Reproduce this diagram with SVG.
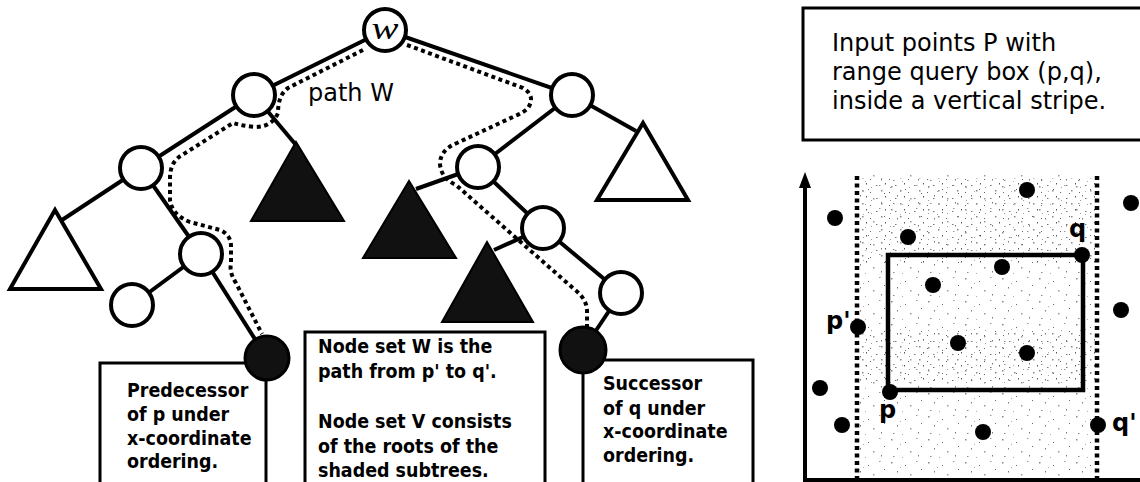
<svg xmlns="http://www.w3.org/2000/svg" width="1140" height="482" viewBox="0 0 1140 482">
<style>
.edge{stroke:#000;stroke-width:4;fill:none}
.dot{stroke:#000;stroke-width:4;fill:none;stroke-dasharray:4 3.5}
.vdot{stroke:#000;stroke-width:4.5;fill:none;stroke-dasharray:4 3.5}
.node{fill:#fff;stroke:#000;stroke-width:4}
.dark{fill:#111;stroke:#000;stroke-width:3}
.tri{fill:#fff;stroke:#000;stroke-width:4;stroke-linejoin:miter}
.tridark{fill:#111;stroke:#000;stroke-width:2}
.box{fill:none;stroke:#000;stroke-width:3}
.lbl{font-family:"DejaVu Sans","Liberation Sans",sans-serif;font-size:17.5px;font-weight:bold;fill:#000}
.big{font-family:"DejaVu Sans","Liberation Sans",sans-serif;font-size:24px;fill:#000}
.pl{font-family:"DejaVu Sans","Liberation Sans",sans-serif;font-size:24px;font-weight:bold;fill:#000}
.pt{fill:#000}
</style>
<defs>
<pattern id="spk" width="37" height="23" patternUnits="userSpaceOnUse">
<rect x="3" y="2" width="1.5" height="1.5" fill="#888"/>
<rect x="17" y="5" width="1" height="1" fill="#666"/>
<rect x="28" y="1" width="1.5" height="1" fill="#999"/>
<rect x="9" y="11" width="1" height="1.5" fill="#777"/>
<rect x="22" y="14" width="1.5" height="1.5" fill="#999"/>
<rect x="33" y="9" width="1" height="1" fill="#666"/>
<rect x="5" y="19" width="1.5" height="1" fill="#888"/>
<rect x="14" y="20" width="1" height="1" fill="#aaa"/>
<rect x="30" y="18" width="1" height="1.5" fill="#777"/>
<rect x="12" y="7" width="1" height="1" fill="#aaa"/>
</pattern>
<pattern id="spk2" width="19" height="13" patternUnits="userSpaceOnUse">
<rect x="2" y="3" width="1.5" height="1" fill="#777"/>
<rect x="11" y="1" width="1" height="1.5" fill="#555"/>
<rect x="7" y="8" width="1.5" height="1.5" fill="#888"/>
<rect x="15" y="10" width="1" height="1" fill="#666"/>
<rect x="16" y="5" width="1" height="1" fill="#999"/>
</pattern>
</defs>

<g id="connectors">
<line class="edge" x1="385" y1="30" x2="254" y2="95"/>
<line class="edge" x1="385" y1="30" x2="572" y2="95"/>
<line class="edge" x1="254" y1="95" x2="141" y2="168"/>
<line class="edge" x1="254" y1="95" x2="296" y2="145"/>
<line class="edge" x1="141" y1="168" x2="62" y2="220"/>
<line class="edge" x1="141" y1="168" x2="201" y2="254"/>
<line class="edge" x1="201" y1="254" x2="132" y2="305"/>
<line class="edge" x1="201" y1="254" x2="267" y2="358"/>
<line class="edge" x1="572" y1="95" x2="478" y2="167"/>
<line class="edge" x1="572" y1="95" x2="636" y2="131"/>
<line class="edge" x1="478" y1="167" x2="416" y2="189"/>
<line class="edge" x1="478" y1="167" x2="543" y2="228"/>
<line class="edge" x1="543" y1="228" x2="494" y2="250"/>
<line class="edge" x1="543" y1="228" x2="621" y2="293"/>
<line class="edge" x1="621" y1="293" x2="583" y2="350"/>
<path class="dot" d="M363,50 L288,88 Q278,95 278,113 Q272,127 255,127 Q243,126 233,123 L179,157 Q170,164 170,178 L170,200 Q172,215 190,222 L220,230 Q231,235 231,246 L231,264 Q229,272 236,283 L262,334"/>
<path class="dot" d="M407,45 L523,88 Q536,96 528,108 Q523,113 515,116 L457,143 Q440,150 440,164 Q441,178 456,185 L574,289 Q587,299 587,311 L587,330"/>
</g>

<g id="node-w">
<circle class="node" cx="385" cy="30" r="21"/>
<text x="385" y="39" text-anchor="middle" font-family="Liberation Serif, serif" font-style="italic" font-size="32" textLength="27" lengthAdjust="spacingAndGlyphs">w</text>
</g>
<g id="node-a"><circle class="node" cx="254" cy="95" r="21"/></g>
<g id="node-b"><circle class="node" cx="572" cy="95" r="21"/></g>
<g id="node-c"><circle class="node" cx="141" cy="168" r="21"/></g>
<g id="node-d"><circle class="node" cx="201" cy="254" r="21"/></g>
<g id="node-e"><circle class="node" cx="132" cy="305" r="21"/></g>
<g id="node-f"><circle class="node" cx="478" cy="167" r="21"/></g>
<g id="node-g"><circle class="node" cx="543" cy="228" r="21"/></g>
<g id="node-h"><circle class="node" cx="621" cy="293" r="21"/></g>
<g id="tri-l"><polygon class="tri" points="55,210 10,289 101,289"/></g>
<g id="tri-r"><polygon class="tri" points="643,123 597,200 688,200"/></g>
<g id="tri-t1"><polygon class="tridark" points="296,142 251,221 344,221"/></g>
<g id="tri-t2"><polygon class="tridark" points="409,181 363,258 456,258"/></g>
<g id="tri-t3"><polygon class="tridark" points="487,242 442,322 533,322"/></g>

<g id="pred-box">
<polyline class="box" points="100,482 100,363 247,363"/>
<line class="box" x1="266" y1="378" x2="266" y2="482"/>
<circle class="dark" cx="267" cy="358" r="22"/>
<text class="lbl" transform="translate(127,397) scale(1,1.1)">Predecessor</text>
<text class="lbl" transform="translate(127,421) scale(1,1.1)">of p under</text>
<text class="lbl" transform="translate(127,445) scale(1,1.1)">x-coordinate</text>
<text class="lbl" transform="translate(127,468) scale(1,1.1)">ordering.</text>
</g>

<g id="node-box">
<polyline class="box" points="305,482 305,332 545,332 545,482"/>
<text class="lbl" transform="translate(318,353) scale(1,1.1)">Node set W is the</text>
<text class="lbl" transform="translate(318,378) scale(1,1.1)">path from p' to q'.</text>
<text class="lbl" transform="translate(318,428) scale(1,1.1)">Node set V consists</text>
<text class="lbl" transform="translate(318,453) scale(1,1.1)">of the roots of the</text>
<text class="lbl" transform="translate(318,477) scale(1,1.1)">shaded subtrees.</text>
</g>

<g id="succ-box">
<polyline class="box" points="604,360 753,360 753,482"/>
<line class="box" x1="583" y1="370" x2="583" y2="482"/>
<circle class="dark" cx="583" cy="350" r="23"/>
<text class="lbl" transform="translate(603,390) scale(1,1.1)">Successor</text>
<text class="lbl" transform="translate(603,415) scale(1,1.1)">of q under</text>
<text class="lbl" transform="translate(603,438) scale(1,1.1)">x-coordinate</text>
<text class="lbl" transform="translate(603,462) scale(1,1.1)">ordering.</text>
</g>

<text class="big" x="308" y="101" font-size="22">path W</text>

<g id="info-box">
<rect class="box" x="803" y="8" width="345" height="132"/>
<text class="big" x="832" y="51">Input points P with</text>
<text class="big" x="832" y="80">range query box (p,q),</text>
<text class="big" x="832" y="109">inside a vertical stripe.</text>
</g>

<g id="plot">
<rect x="860" y="175" width="235" height="303" fill="url(#spk)"/>
<rect x="860" y="178" width="235" height="85" fill="url(#spk2)"/>
<rect x="860" y="330" width="235" height="55" fill="url(#spk2)"/>
<line class="vdot" x1="857" y1="176" x2="857" y2="478"/>
<line class="vdot" x1="1097" y1="176" x2="1097" y2="478"/>
<line class="edge" x1="805" y1="480" x2="805" y2="184"/>
<polygon points="805,172 799,188 811,188" fill="#000"/>
<line class="edge" x1="803" y1="480" x2="1140" y2="480"/>
<rect x="888" y="255" width="195" height="135" fill="none" stroke="#000" stroke-width="4.5"/>
<circle class="pt" cx="1027" cy="190" r="8"/>
<circle class="pt" cx="1131" cy="203" r="8"/>
<circle class="pt" cx="835" cy="218" r="8"/>
<circle class="pt" cx="908" cy="237" r="8"/>
<circle class="pt" cx="1082" cy="255" r="8"/>
<circle class="pt" cx="1002" cy="267" r="8"/>
<circle class="pt" cx="933" cy="285" r="8"/>
<circle class="pt" cx="1121" cy="310" r="8"/>
<circle class="pt" cx="858" cy="327" r="8"/>
<circle class="pt" cx="958" cy="343" r="8"/>
<circle class="pt" cx="1027" cy="353" r="8"/>
<circle class="pt" cx="820" cy="388" r="8"/>
<circle class="pt" cx="890" cy="392" r="8"/>
<circle class="pt" cx="842" cy="425" r="8"/>
<circle class="pt" cx="983" cy="432" r="8"/>
<circle class="pt" cx="1098" cy="425" r="8"/>
<text class="pl" x="1069" y="237">q</text>
<text class="pl" x="826" y="329">p'</text>
<text class="pl" x="879" y="418">p</text>
<text class="pl" x="1112" y="431">q'</text>
</g>
</svg>
